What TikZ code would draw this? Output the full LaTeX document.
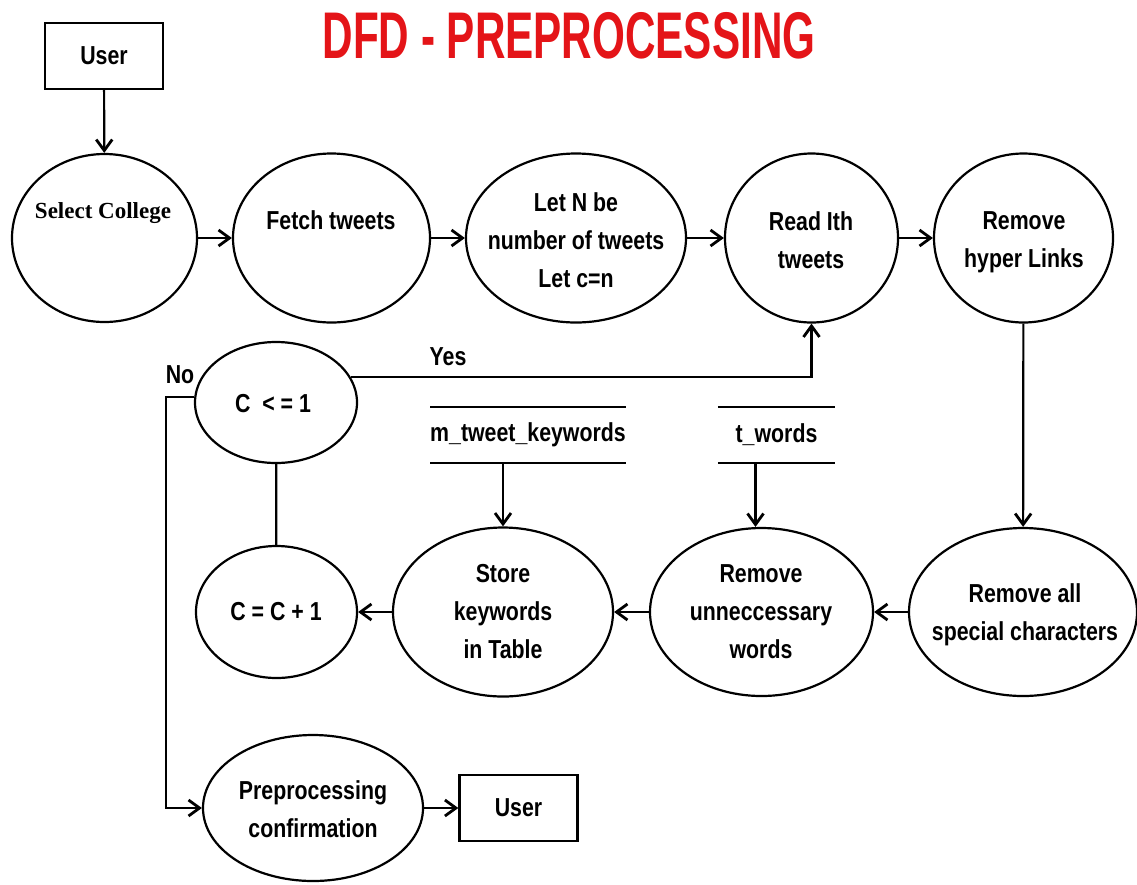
\documentclass[tikz,border=0pt]{standalone}
\usepackage{fontspec}
\setmainfont{Liberation Sans}
\newfontfamily\bodyfont[FakeStretch=0.82]{Liberation Sans}
\newfontfamily\titlefont[FakeStretch=0.64]{Liberation Sans}
\newfontfamily\serifbold{Liberation Serif}
\usetikzlibrary{shapes.geometric,arrows.meta}
\definecolor{titlered}{RGB}{228,20,24}
\begin{document}
\begin{tikzpicture}[x=1pt,y=-1pt,
  proc/.style={ellipse, draw, line width=2.2pt, inner sep=0pt},
  txt/.style={font=\bodyfont\bfseries\fontsize{26}{38}\selectfont, align=center, inner sep=0pt},
  ubox/.style={draw, line width=2.4pt, minimum width=118pt, minimum height=66pt, inner sep=0pt,
    font=\bodyfont\bfseries\fontsize{26}{38}\selectfont},
  dstore/.style={draw=none, minimum height=56pt, inner sep=0pt,
    font=\bodyfont\bfseries\fontsize{26}{38}\selectfont},
  conn/.style={line width=2.2pt},
  arr/.style={line width=2.2pt, -{Straight Barb[length=11pt,width=16pt,line width=2.8pt]}}
]
\useasboundingbox (0,0) rectangle (1137,884);

% title
\node[txt, font=\titlefont\bfseries\fontsize{66}{70}\selectfont, text=titlered] (title) at (569,36) {DFD - PREPROCESSING};

% external entities
\node[ubox] (user1) at (104,56) {User};
\node[ubox] (user2) at (518.5,808) {User};

% processes (shapes)
\node[proc, minimum width=185pt, minimum height=168pt] (sel) at (104.5,238) {};
\node[proc, minimum width=197pt, minimum height=169pt] (fetch) at (331.5,238) {};
\node[proc, minimum width=220pt, minimum height=169pt] (letn) at (576,238) {};
\node[proc, minimum width=173pt, minimum height=169pt] (read) at (811.5,238) {};
\node[proc, minimum width=179pt, minimum height=169pt] (hyper) at (1023.5,238) {};
\node[proc, minimum width=228pt, minimum height=168pt] (special) at (1023,612) {};
\node[proc, minimum width=223pt, minimum height=168pt] (unn) at (761.5,612) {};
\node[proc, minimum width=220pt, minimum height=169pt] (store) at (503,612) {};
\node[proc, minimum width=161pt, minimum height=132pt] (cinc) at (276.5,612) {};
\node[proc, minimum width=162pt, minimum height=121pt] (cle) at (276,402.5) {};
\node[proc, minimum width=220pt, minimum height=146pt] (conf) at (313,808) {};

% process texts
\node[txt, font=\serifbold\bfseries\fontsize{23}{28}\selectfont] (selt) at (103,213) {Select College};
\node[txt] (fetcht) at (331,220) {Fetch tweets};
\node[txt] (letnt) at (576,240) {Let N be\\number of tweets\\Let c=n};
\node[txt] (readt) at (811,240) {Read Ith\\tweets};
\node[txt] (hypert) at (1024,242) {Remove\\hyper Links};
\node[txt] (specialt) at (1025,615) {Remove all\\special characters};
\node[txt] (unnt) at (761,612) {Remove\\unneccessary\\words};
\node[txt] (storet) at (503,612) {Store\\keywords\\in Table};
\node[txt] (cinct) at (276,612) {C = C + 1};
\node[txt] (clet) at (273,404) {C \ < = 1};
\node[txt] (conft) at (313,809) {Preprocessing\\confirmation};

% data stores
\node[dstore, minimum width=186pt] (mtk) at (528,435) {m\_tweet\_keywords};
\node[dstore, minimum width=117pt] (tw) at (776.5,435) {t\_words};
\draw[conn] (mtk.north west) -- (mtk.north east) (mtk.south west) -- (mtk.south east);
\draw[conn] (tw.north west) -- (tw.north east) (tw.south west) -- (tw.south east);

% labels
\node[txt] (yes) at (448,357) {Yes};
\node[txt] (no) at (180,375) {No};

% connectors
\draw[arr] (user1) -- (sel);
\draw[arr] (sel) -- (fetch);
\draw[arr] (fetch) -- (letn);
\draw[arr] (letn) -- (read);
\draw[arr] (read) -- (hyper);
\draw[arr] (hyper) -- (special);
\draw[arr] (special) -- (unn);
\draw[arr] (unn) -- (store);
\draw[arr] (store) -- (cinc);
\draw[conn] (cinc) -- (cle);
\draw[arr] (cle.19) -| (read.south);
\coordinate (nocorner) at (166,397);
\draw[arr] (cle.176) -- (cle.176 -| nocorner) |- (conf.west);
\draw[arr] (conf) -- (user2);
\draw[arr] (mtk.south -| store.north) -- (store.north);
\draw[arr] ([xshift=-21pt]tw.south) -- ([xshift=-21pt]tw.south |- unn.north);
\end{tikzpicture}
\end{document}
